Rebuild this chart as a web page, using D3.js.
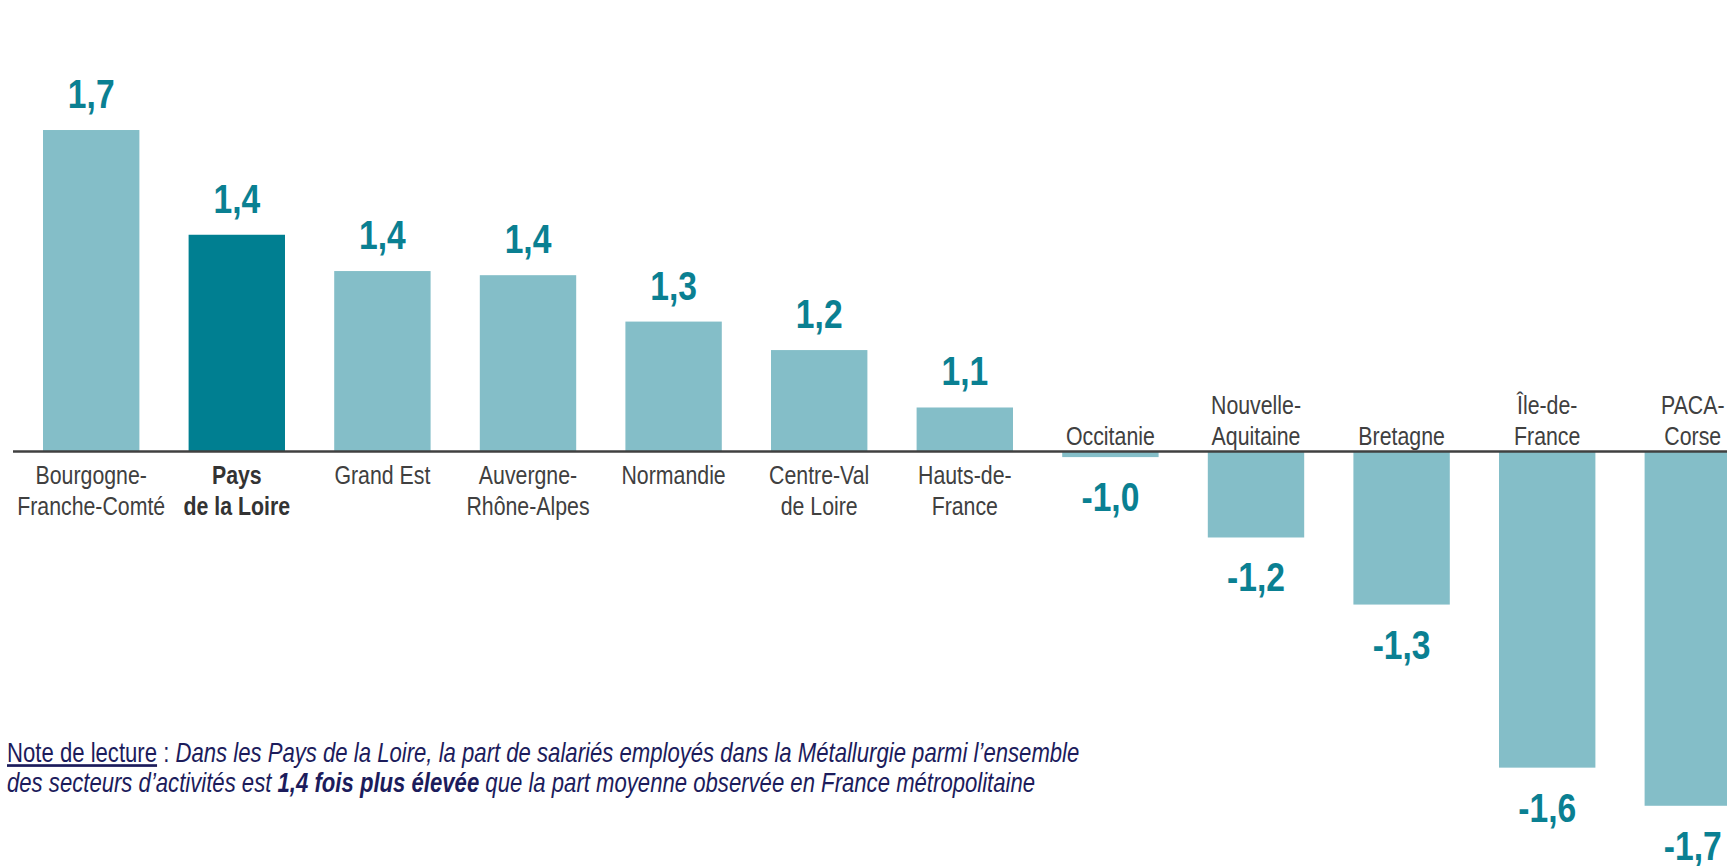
<!DOCTYPE html>
<html>
<head>
<meta charset="utf-8">
<script src="https://cdn.jsdelivr.net/npm/d3@7"></script>
<style>
  html, body { margin: 0; padding: 0; background: #ffffff; }
  svg { display: block; }
</style>
</head>
<body>
<svg id="chart" width="1727" height="866"></svg>
<script>
// ---- Data ----
const categories = [
  "Bourgogne-\nFranche-Comté", "Pays\nde la Loire", "Grand Est", "Auvergne-\nRhône-Alpes",
  "Normandie", "Centre-Val\nde Loire", "Hauts-de-\nFrance", "Occitanie",
  "Nouvelle-\nAquitaine", "Bretagne", "Île-de-\nFrance", "PACA-\nCorse"
];
// écart à la moyenne (bar length)
const values = [0.70, 0.472, 0.393, 0.384, 0.283, 0.221, 0.096, -0.012, -0.187, -0.333, -0.688, -0.771];
const valueLabels = ["1,7", "1,4", "1,4", "1,4", "1,3", "1,2", "1,1", "-1,0", "-1,2", "-1,3", "-1,6", "-1,7"];
const highlight = "Pays\nde la Loire";
const noteLine1 = ["Note de lecture", " : ", "Dans les Pays de la Loire, la part de salariés employés dans la Métallurgie parmi l’ensemble"];
const noteLine2 = ["des secteurs d’activités est ", "1,4 fois plus élevée", " que la part moyenne observée en France métropolitaine"];

// ---- Styles ----
const LIGHT = "#84bec8", DARK = "#007f91", VALUE_COLOR = "#0a8092", CAT_COLOR = "#404040", NAVY = "#1c1c5c";

const svg = d3.select("#chart");

function textWidth(family) {
  const t = svg.append("text").attr("font-family", family).attr("font-size", 100).text("Franche-Comté");
  const w = t.node().getComputedTextLength();
  t.remove();
  return w;
}
const narrowOK = Math.abs(textWidth("'Liberation Sans Narrow', monospace") - textWidth("monospace")) > 1;
const FAMILY = narrowOK ? "'Liberation Sans Narrow', 'Arial Narrow', sans-serif" : "'Liberation Sans', Arial, sans-serif";
const SX = narrowOK ? 1 : 0.82;

const x = d3.scaleBand()
  .domain(categories)
  .range([18.4, 18.4 + 12 * 145.6])
  .paddingInner(0.338)
  .paddingOuter(0.169);

const y = d3.scaleLinear()
  .domain([-0.8, 0.75])
  .range([819.1, 107.05]);

const data = categories.map((c, i) => ({ c, v: values[i], lab: valueLabels[i] }));

// bars
svg.append("g").selectAll("rect").data(data).join("rect")
  .attr("x", d => x(d.c))
  .attr("width", x.bandwidth())
  .attr("y", d => y(Math.max(0, d.v)))
  .attr("height", d => Math.abs(y(d.v) - y(0)))
  .attr("fill", d => d.c === highlight ? DARK : LIGHT);

// baseline
svg.append("line")
  .attr("x1", 13).attr("x2", 1727)
  .attr("y1", y(0)).attr("y2", y(0))
  .attr("stroke", "#404040").attr("stroke-width", 2.5);

function placeText(sel, tx, ty) {
  sel.attr("transform", `translate(${tx},${ty}) scale(${SX},1)`);
}

// value labels
data.forEach(d => {
  const cx = x(d.c) + x.bandwidth() / 2;
  const ty = d.v >= 0 ? y(d.v) - 22 : y(d.v) + 54;
  const t = svg.append("text")
    .attr("font-family", FAMILY).attr("font-size", 41).attr("font-weight", "bold")
    .attr("fill", VALUE_COLOR).attr("text-anchor", "middle")
    .text(d.lab);
  placeText(t, cx, ty);
});

// category labels
data.forEach(d => {
  const cx = x(d.c) + x.bandwidth() / 2;
  const lines = d.c.split("\n");
  const bold = d.c === highlight;
  lines.forEach((ln, j) => {
    let ty;
    if (d.v >= 0) ty = 484 + j * 31;
    else ty = 445 - (lines.length - 1 - j) * 31;
    const t = svg.append("text")
      .attr("font-family", FAMILY).attr("font-size", 26)
      .attr("font-weight", bold ? "bold" : "normal")
      .attr("fill", bold ? "#333333" : CAT_COLOR).attr("text-anchor", "middle")
      .text(ln);
    placeText(t, cx, ty);
  });
});

// note
const n1 = svg.append("text").attr("font-family", FAMILY).attr("font-size", 27).attr("fill", NAVY);
n1.append("tspan").attr("text-decoration", "underline").text(noteLine1[0]);
n1.append("tspan").text(noteLine1[1]);
n1.append("tspan").attr("font-style", "italic").text(noteLine1[2]);
placeText(n1, 7, 762);

const n2 = svg.append("text").attr("font-family", FAMILY).attr("font-size", 27).attr("fill", NAVY).attr("font-style", "italic");
n2.append("tspan").text(noteLine2[0]);
n2.append("tspan").attr("font-weight", "bold").text(noteLine2[1]);
n2.append("tspan").text(noteLine2[2]);
placeText(n2, 7, 792);
</script>
</body>
</html>
